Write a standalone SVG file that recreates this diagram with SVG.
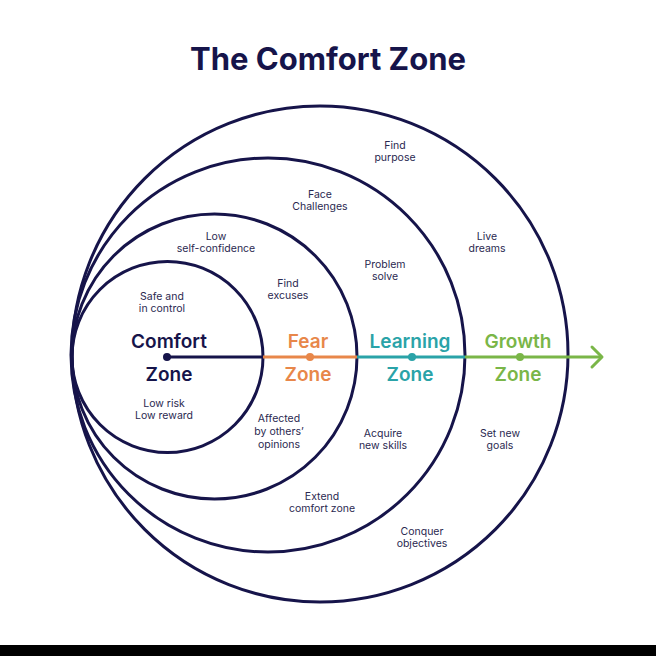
<svg xmlns="http://www.w3.org/2000/svg" width="656" height="656" viewBox="0 0 656 656">
<style>
.ring{fill:none;stroke:#16144a;stroke-width:3}
.t{font-family:Inter,"Liberation Sans",sans-serif;font-size:10.5px;fill:#2a2850;text-anchor:middle}
.z{font-family:Inter,"Liberation Sans",sans-serif;font-size:19px;font-weight:600;text-anchor:middle}
.title{font-family:Inter,"Liberation Sans",sans-serif;font-size:31px;font-weight:700;fill:#16144a;text-anchor:middle}
</style>
<rect width="656" height="656" fill="#ffffff"/>
<text class="title" x="328" y="70">The Comfort Zone</text>
<g id="growth-zone">
<circle class="ring" cx="320" cy="354" r="248"/>
</g>
<g id="learning-zone">
<circle class="ring" cx="268" cy="355" r="197"/>
</g>
<g id="fear-zone">
<circle class="ring" cx="214.5" cy="356.5" r="142.5"/>
</g>
<g id="comfort-zone">
<circle class="ring" cx="167.5" cy="357" r="95.5"/>
</g>
<g id="connectors">
<line x1="167" y1="357" x2="263" y2="357" stroke="#16144a" stroke-width="3"/>
<line x1="263" y1="357" x2="357" y2="357" stroke="#e8874a" stroke-width="3"/>
<line x1="357" y1="357" x2="465" y2="357" stroke="#2aa3a8" stroke-width="3"/>
<line x1="465" y1="357" x2="601" y2="357" stroke="#7ab648" stroke-width="3"/>
<polyline points="592,347 602,357 592,367" fill="none" stroke="#7ab648" stroke-width="3" stroke-linecap="round" stroke-linejoin="round"/>
<circle cx="167" cy="357" r="4" fill="#16144a"/>
<circle cx="310" cy="357" r="4" fill="#e8874a"/>
<circle cx="412" cy="357" r="4" fill="#2aa3a8"/>
<circle cx="520" cy="357" r="4" fill="#7ab648"/>
</g>
<g id="labels">
<text class="z" x="169" y="348" fill="#16144a">Comfort</text>
<text class="z" x="169" y="381" fill="#16144a">Zone</text>
<text class="z" x="308" y="348" fill="#e8874a">Fear</text>
<text class="z" x="308" y="381" fill="#e8874a">Zone</text>
<text class="z" x="410" y="348" fill="#2aa3a8">Learning</text>
<text class="z" x="410" y="381" fill="#2aa3a8">Zone</text>
<text class="z" x="518" y="348" fill="#7ab648">Growth</text>
<text class="z" x="518" y="381" fill="#7ab648">Zone</text>
</g>
<g id="notes">
<text class="t" x="395" y="148.6">Find<tspan x="395" dy="12.8">purpose</tspan></text>
<text class="t" x="320" y="197.6">Face<tspan x="320" dy="12.8">Challenges</tspan></text>
<text class="t" x="216" y="239.6">Low<tspan x="216" dy="12.8">self-confidence</tspan></text>
<text class="t" x="487" y="239.6">Live<tspan x="487" dy="12.8">dreams</tspan></text>
<text class="t" x="385" y="267.6">Problem<tspan x="385" dy="12.8">solve</tspan></text>
<text class="t" x="288" y="286.6">Find<tspan x="288" dy="12.8">excuses</tspan></text>
<text class="t" x="162" y="299.6">Safe and<tspan x="162" dy="12.8">in control</tspan></text>
<text class="t" x="164" y="406.6">Low risk<tspan x="164" dy="12.8">Low reward</tspan></text>
<text class="t" x="279" y="422.2">Affected<tspan x="279" dy="12.8">by others’</tspan><tspan x="279" dy="12.8">opinions</tspan></text>
<text class="t" x="383" y="436.6">Acquire<tspan x="383" dy="12.8">new skills</tspan></text>
<text class="t" x="500" y="436.6">Set new<tspan x="500" dy="12.8">goals</tspan></text>
<text class="t" x="322" y="499.6">Extend<tspan x="322" dy="12.8">comfort zone</tspan></text>
<text class="t" x="422" y="534.6">Conquer<tspan x="422" dy="12.8">objectives</tspan></text>
</g>
<rect x="0" y="645" width="656" height="11" fill="#000000"/>
</svg>
